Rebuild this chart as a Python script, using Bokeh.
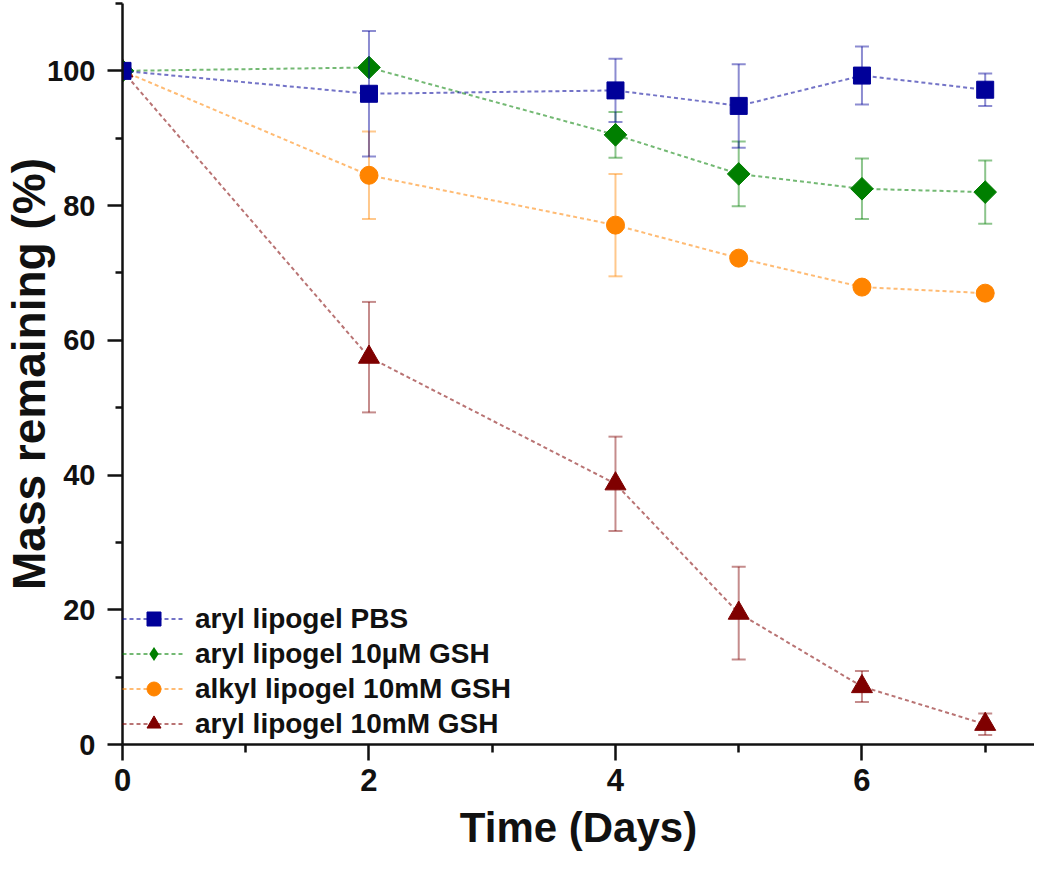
import math
from bokeh.plotting import figure
from bokeh.models import ColumnDataSource, FixedTicker, Range1d, Legend, LegendItem
from bokeh.embed import file_html
from bokeh.resources import INLINE

# ---------------- data ----------------
days = [0, 2, 4, 5, 6, 7]

labels = ["aryl lipogel PBS", "aryl lipogel 10\u00b5M GSH",
          "alkyl lipogel 10mM GSH", "aryl lipogel 10mM GSH"]

pbs_mean = [100, 96.6, 97.1, 94.8, 99.3, 97.2]
pbs_err = [0, 9.3, 4.7, 6.2, 4.3, 2.4]

gsh10u_mean = [100, 100.5, 90.5, 84.7, 82.5, 82.0]
gsh10u_err = [0, 0, 3.4, 4.8, 4.5, 4.7]

alkyl10m_mean = [100, 84.5, 77.1, 72.2, 67.9, 67.0]
alkyl10m_err = [0, 6.5, 7.6, 0.8, 0.8, 0.8]

aryl10m_mean = [100, 57.5, 38.7, 19.5, 8.6, 3.0]
aryl10m_err = [0, 8.2, 7.0, 6.9, 2.3, 1.6]

x_major = [0, 2, 4, 6]
x_minor = [1, 3, 5, 7]
y_major = [0, 20, 40, 60, 80, 100]
y_minor = [10, 30, 50, 70, 90, 110]

# ---------------- styles ----------------
styles = [
    dict(color="#000099", marker="square", size=17, angle=0.0, legend_marker="square"),
    dict(color="#007F00", marker="square", size=16, angle=math.pi / 4, legend_marker="diamond"),
    dict(color="#FF8400", marker="circle", size=18, angle=0.0, legend_marker="circle"),
    dict(color="#7F0000", marker="triangle", size=21, angle=0.0, legend_marker="triangle"),
]
means = [pbs_mean, gsh10u_mean, alkyl10m_mean, aryl10m_mean]
errs = [pbs_err, gsh10u_err, alkyl10m_err, aryl10m_err]

FONT = "Liberation Sans"

p = figure(width=1034, height=853, output_backend="svg", toolbar_location=None,
           x_range=Range1d(0, 7.4), y_range=Range1d(0, 110),
           min_border_left=122, min_border_right=0, min_border_top=3,
           min_border_bottom=108)
p.grid.visible = False
p.outline_line_color = None
p.background_fill_color = "white"
p.border_fill_color = "white"

legend_refs = [None] * 4
for i in reversed(range(4)):
    st = styles[i]
    m = means[i]
    e = errs[i]
    src = ColumnDataSource(dict(
        x=days, y=m,
        lo=[a - b for a, b in zip(m, e)],
        hi=[a + b for a, b in zip(m, e)],
    ))
    ln = p.line("x", "y", source=src, line_color=st["color"], line_alpha=0.55,
                line_width=2, line_dash="4 3")
    p.segment(x0="x", y0="lo", x1="x", y1="hi", source=src,
              line_color=st["color"], line_alpha=0.45, line_width=2)
    p.scatter("x", "hi", source=src, marker="dash", size=14,
              line_color=st["color"], line_alpha=0.45, line_width=2)
    p.scatter("x", "lo", source=src, marker="dash", size=14,
              line_color=st["color"], line_alpha=0.45, line_width=2)
    legend_mk = None
    if st["legend_marker"] != st["marker"]:
        # legend swatch glyph (legend swatches ignore marker angle); it sits
        # fully underneath the rotated-square markers drawn next
        legend_mk = p.scatter("x", "y", source=src, marker=st["legend_marker"],
                              size=st["size"], fill_color=st["color"],
                              line_color=st["color"], line_width=0)
    mk = p.scatter("x", "y", source=src, marker=st["marker"], size=st["size"],
                   angle=st["angle"], fill_color=st["color"],
                   line_color=st["color"], line_width=1)
    legend_refs[i] = [ln, legend_mk if legend_mk is not None else mk]

items = [LegendItem(label=labels[i], renderers=legend_refs[i]) for i in range(4)]
legend = Legend(items=items, location=(0, 3), padding=0, margin=0,
                spacing=0, glyph_height=35, glyph_width=63, label_standoff=10,
                label_height=20,
                label_text_font=FONT, label_text_font_style="bold",
                label_text_font_size="28px", label_text_color="#111111",
                border_line_color=None, background_fill_alpha=0)
p.add_layout(legend, "center")

# axes
for ax in (p.xaxis[0], p.yaxis[0]):
    ax.axis_line_width = 2.5
    ax.axis_line_color = "#111111"
    ax.major_tick_line_width = 2.5
    ax.minor_tick_line_width = 2.5
    ax.major_tick_line_color = "#111111"
    ax.minor_tick_line_color = "#111111"
    ax.major_tick_in = 0
    ax.minor_tick_in = 0
    ax.major_label_text_font = FONT
    ax.major_label_text_font_style = "bold"
    ax.major_label_text_color = "#111111"
    ax.axis_label_text_font = FONT
    ax.axis_label_text_font_style = "bold"
    ax.axis_label_text_color = "#111111"

p.xaxis.ticker = FixedTicker(ticks=x_major, minor_ticks=x_minor)
p.yaxis.ticker = FixedTicker(ticks=y_major, minor_ticks=y_minor)
p.xaxis.major_label_text_font_size = "31px"
p.yaxis.major_label_text_font_size = "29px"
p.xaxis.major_tick_out = 16
p.xaxis.minor_tick_out = 8
p.yaxis.major_tick_out = 15
p.yaxis.minor_tick_out = 7
p.xaxis.major_label_standoff = 8
p.yaxis.major_label_standoff = 12
p.xaxis.axis_label = "Time (Days)"
p.yaxis.axis_label = "Mass remaining (%)"
p.xaxis.axis_label_text_font_size = "42px"
p.yaxis.axis_label_text_font_size = "46px"
p.xaxis.axis_label_standoff = 10
p.yaxis.axis_label_standoff = -11

open("out.html", "w").write(file_html(p, INLINE))
